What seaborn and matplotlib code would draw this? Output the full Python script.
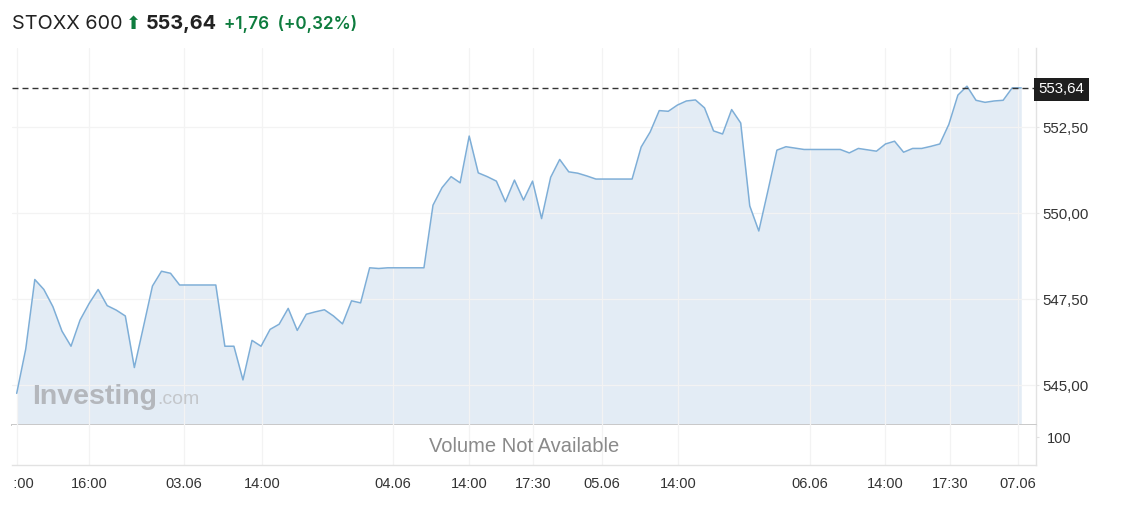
import numpy as np
import pandas as pd
import matplotlib
matplotlib.use("Agg")
import matplotlib.pyplot as plt
import matplotlib.transforms as mtransforms
import seaborn as sns

# ---------------- data ----------------
prices = [
    544.76, 546.05, 548.07, 547.78, 547.28, 546.57, 546.13, 546.89, 547.37, 547.78,
    547.31, 547.18, 547.01, 545.51, 546.69, 547.88, 548.31, 548.25, 547.91, 547.91,
    547.91, 547.91, 547.91, 546.13, 546.13, 545.15, 546.30, 546.13, 546.62, 546.77,
    547.23, 546.59, 547.06, 547.13, 547.19, 547.01, 546.78, 547.45, 547.39, 548.41,
    548.39, 548.41, 548.41, 548.41, 548.41, 548.41, 550.23, 550.74, 551.06, 550.88,
    552.24, 551.17, 551.06, 550.93, 550.33, 550.96, 550.38, 550.93, 549.84, 551.04,
    551.56, 551.20, 551.16, 551.08, 550.99, 550.99, 550.99, 550.99, 550.99, 551.92,
    552.36, 552.98, 552.96, 553.14, 553.26, 553.29, 553.06, 552.39, 552.30, 553.01,
    552.62, 550.21, 549.48, 550.64, 551.83, 551.93, 551.89, 551.85, 551.85, 551.85,
    551.85, 551.85, 551.75, 551.88, 551.84, 551.80, 552.01, 552.09, 551.77, 551.88,
    551.88, 551.94, 552.01, 552.58, 553.43, 553.69, 553.28, 553.22, 553.26, 553.28,
    553.64, 553.64,
]
last_price = 553.64
header_name = "STOXX 600"
header_price = "553,64"
header_change = "+1,76  (+0,32%)"

tick_pos = [0, 7.99, 18.49, 27.1, 41.58, 49.98, 57.05, 64.7, 73.07, 87.66, 95.95, 103.1, 110.64]
tick_labels = ["12:00", "16:00", "03.06", "14:00", "04.06", "14:00", "17:30",
               "05.06", "14:00", "06.06", "14:00", "17:30", "07.06"]
price_ticks = [545.0, 547.5, 550.0, 552.5]
volume_ticks = [100]

df = pd.DataFrame({"idx": np.arange(len(prices)), "price": prices})

# ---------------- style ----------------
sns.set_style("white")
plt.rcParams["font.family"] = ["Liberation Sans", "DejaVu Sans"]

W, H = 1121, 527
fig = plt.figure(figsize=(W / 100, H / 100), dpi=100)
fig.patch.set_facecolor("white")

def box(l, t, r, b):
    return [l / W, (H - b) / H, (r - l) / W, (b - t) / H]

ax = fig.add_axes(box(12, 48, 1036, 425))
axv = fig.add_axes(box(12, 425, 1036, 465), sharex=ax)

line_c = "#7eaed7"
fill_c = "#e3ecf5"
grid_c = "#f3f3f3"
txt_c = "#333333"

ylo, yhi = 543.84, 554.80
xlo, xhi = -0.52, 112.63

ax.fill_between(df["idx"], df["price"], ylo, color=fill_c, lw=0, zorder=1)
sns.lineplot(data=df, x="idx", y="price", ax=ax, color=line_c, lw=1.1, zorder=3)
ax.set_xlim(xlo, xhi)
ax.set_ylim(ylo, yhi)
ax.set_xlabel("")
ax.set_ylabel("")

# grid
ax.set_xticks(tick_pos)
ax.set_yticks(price_ticks)
ax.grid(True, color=grid_c, lw=0.9, zorder=2)
ax.set_axisbelow(False)
for gl in ax.get_xgridlines() + ax.get_ygridlines():
    gl.set_zorder(2)
ax.tick_params(axis="x", labelbottom=False, length=0)
ax.yaxis.tick_right()
ax.tick_params(axis="y", length=2.5, color="#e6e6e6", pad=2, labelsize=10.8, labelcolor=txt_c)
ax.set_yticklabels([f"{v:.2f}".replace(".", ",") for v in price_ticks])

for s in ["top", "left"]:
    ax.spines[s].set_visible(False)
ax.spines["bottom"].set_color("#c9c9c9")
ax.spines["bottom"].set_linewidth(1.4)
ax.spines["right"].set_color("#e2e2e2")
ax.spines["right"].set_linewidth(1.0)

# last price dashed line + label
ax.axhline(last_price, color="#333333", lw=1.0, ls=(0, (4.3, 2.9)), zorder=4)
trans = mtransforms.blended_transform_factory(ax.transAxes, ax.transData)
ax.text(1.0024, last_price, header_price, transform=trans, ha="left", va="center_baseline",
        color="white", fontsize=10.8, zorder=6, clip_on=False,
        bbox=dict(boxstyle="square,pad=0.32", fc="#1e1e1e", ec="none"))

# watermark
fig.text(32 / W, (H - 404) / H, "Investing", fontsize=20.5, fontweight="bold",
         color="#b4b7bc", ha="left", va="baseline")
fig.text(157 / W, (H - 404) / H, ".com", fontsize=14, color="#c4c7cb",
         ha="left", va="baseline")

# volume panel
axv.set_ylim(0, 142.9)
axv.set_yticks(volume_ticks)
axv.yaxis.tick_right()
axv.tick_params(axis="y", length=2.5, color="#e0e0e0", pad=5, labelsize=10.5, labelcolor=txt_c)
axv.set_xticks(tick_pos)
axv.set_xticklabels(tick_labels)
axv.tick_params(axis="x", length=3, color="#dcdcdc", pad=5.5, labelsize=10.5, labelcolor=txt_c)
axv.grid(True, axis="x", color=grid_c, lw=0.9)
axv.grid(False, axis="y")
for s in ["top", "left"]:
    axv.spines[s].set_visible(False)
axv.spines["bottom"].set_color("#e2e2e2")
axv.spines["right"].set_color("#e2e2e2")
axv.spines["bottom"].set_linewidth(1.0)
axv.spines["right"].set_linewidth(1.0)
axv.text(0.5, 0.47, "Volume Not Available", transform=axv.transAxes, ha="center",
         va="center", fontsize=14.5, color="#8a8a8a")

# clip first tick label like the reference
clipbox = mtransforms.TransformedBbox(mtransforms.Bbox([[12.5 / W, 0], [1, 1]]), fig.transFigure)
first = axv.xaxis.get_major_ticks()[0].label1
first.set_clip_box(clipbox)
first.set_clip_on(True)

# header
base_y = (H - 29) / H
green = "#0e7c3e"
fig.text(12 / W, base_y, header_name, fontsize=14.3, color="#222222", ha="left",
         va="baseline", family=["Inter", "DejaVu Sans"])
fig.text(126 / W, base_y, "⬆", fontsize=13, color=green, ha="left", va="baseline",
         family=["DejaVu Sans"])
fig.text(146 / W, base_y, header_price, fontsize=14.3, fontweight="bold", color="#222222",
         ha="left", va="baseline", family=["Inter", "DejaVu Sans"])
fig.text(224 / W, base_y, header_change, fontsize=12.3, fontweight="semibold", color=green,
         ha="left", va="baseline", family=["Inter", "DejaVu Sans"])

fig.savefig("out.png", dpi=100, facecolor="white")
